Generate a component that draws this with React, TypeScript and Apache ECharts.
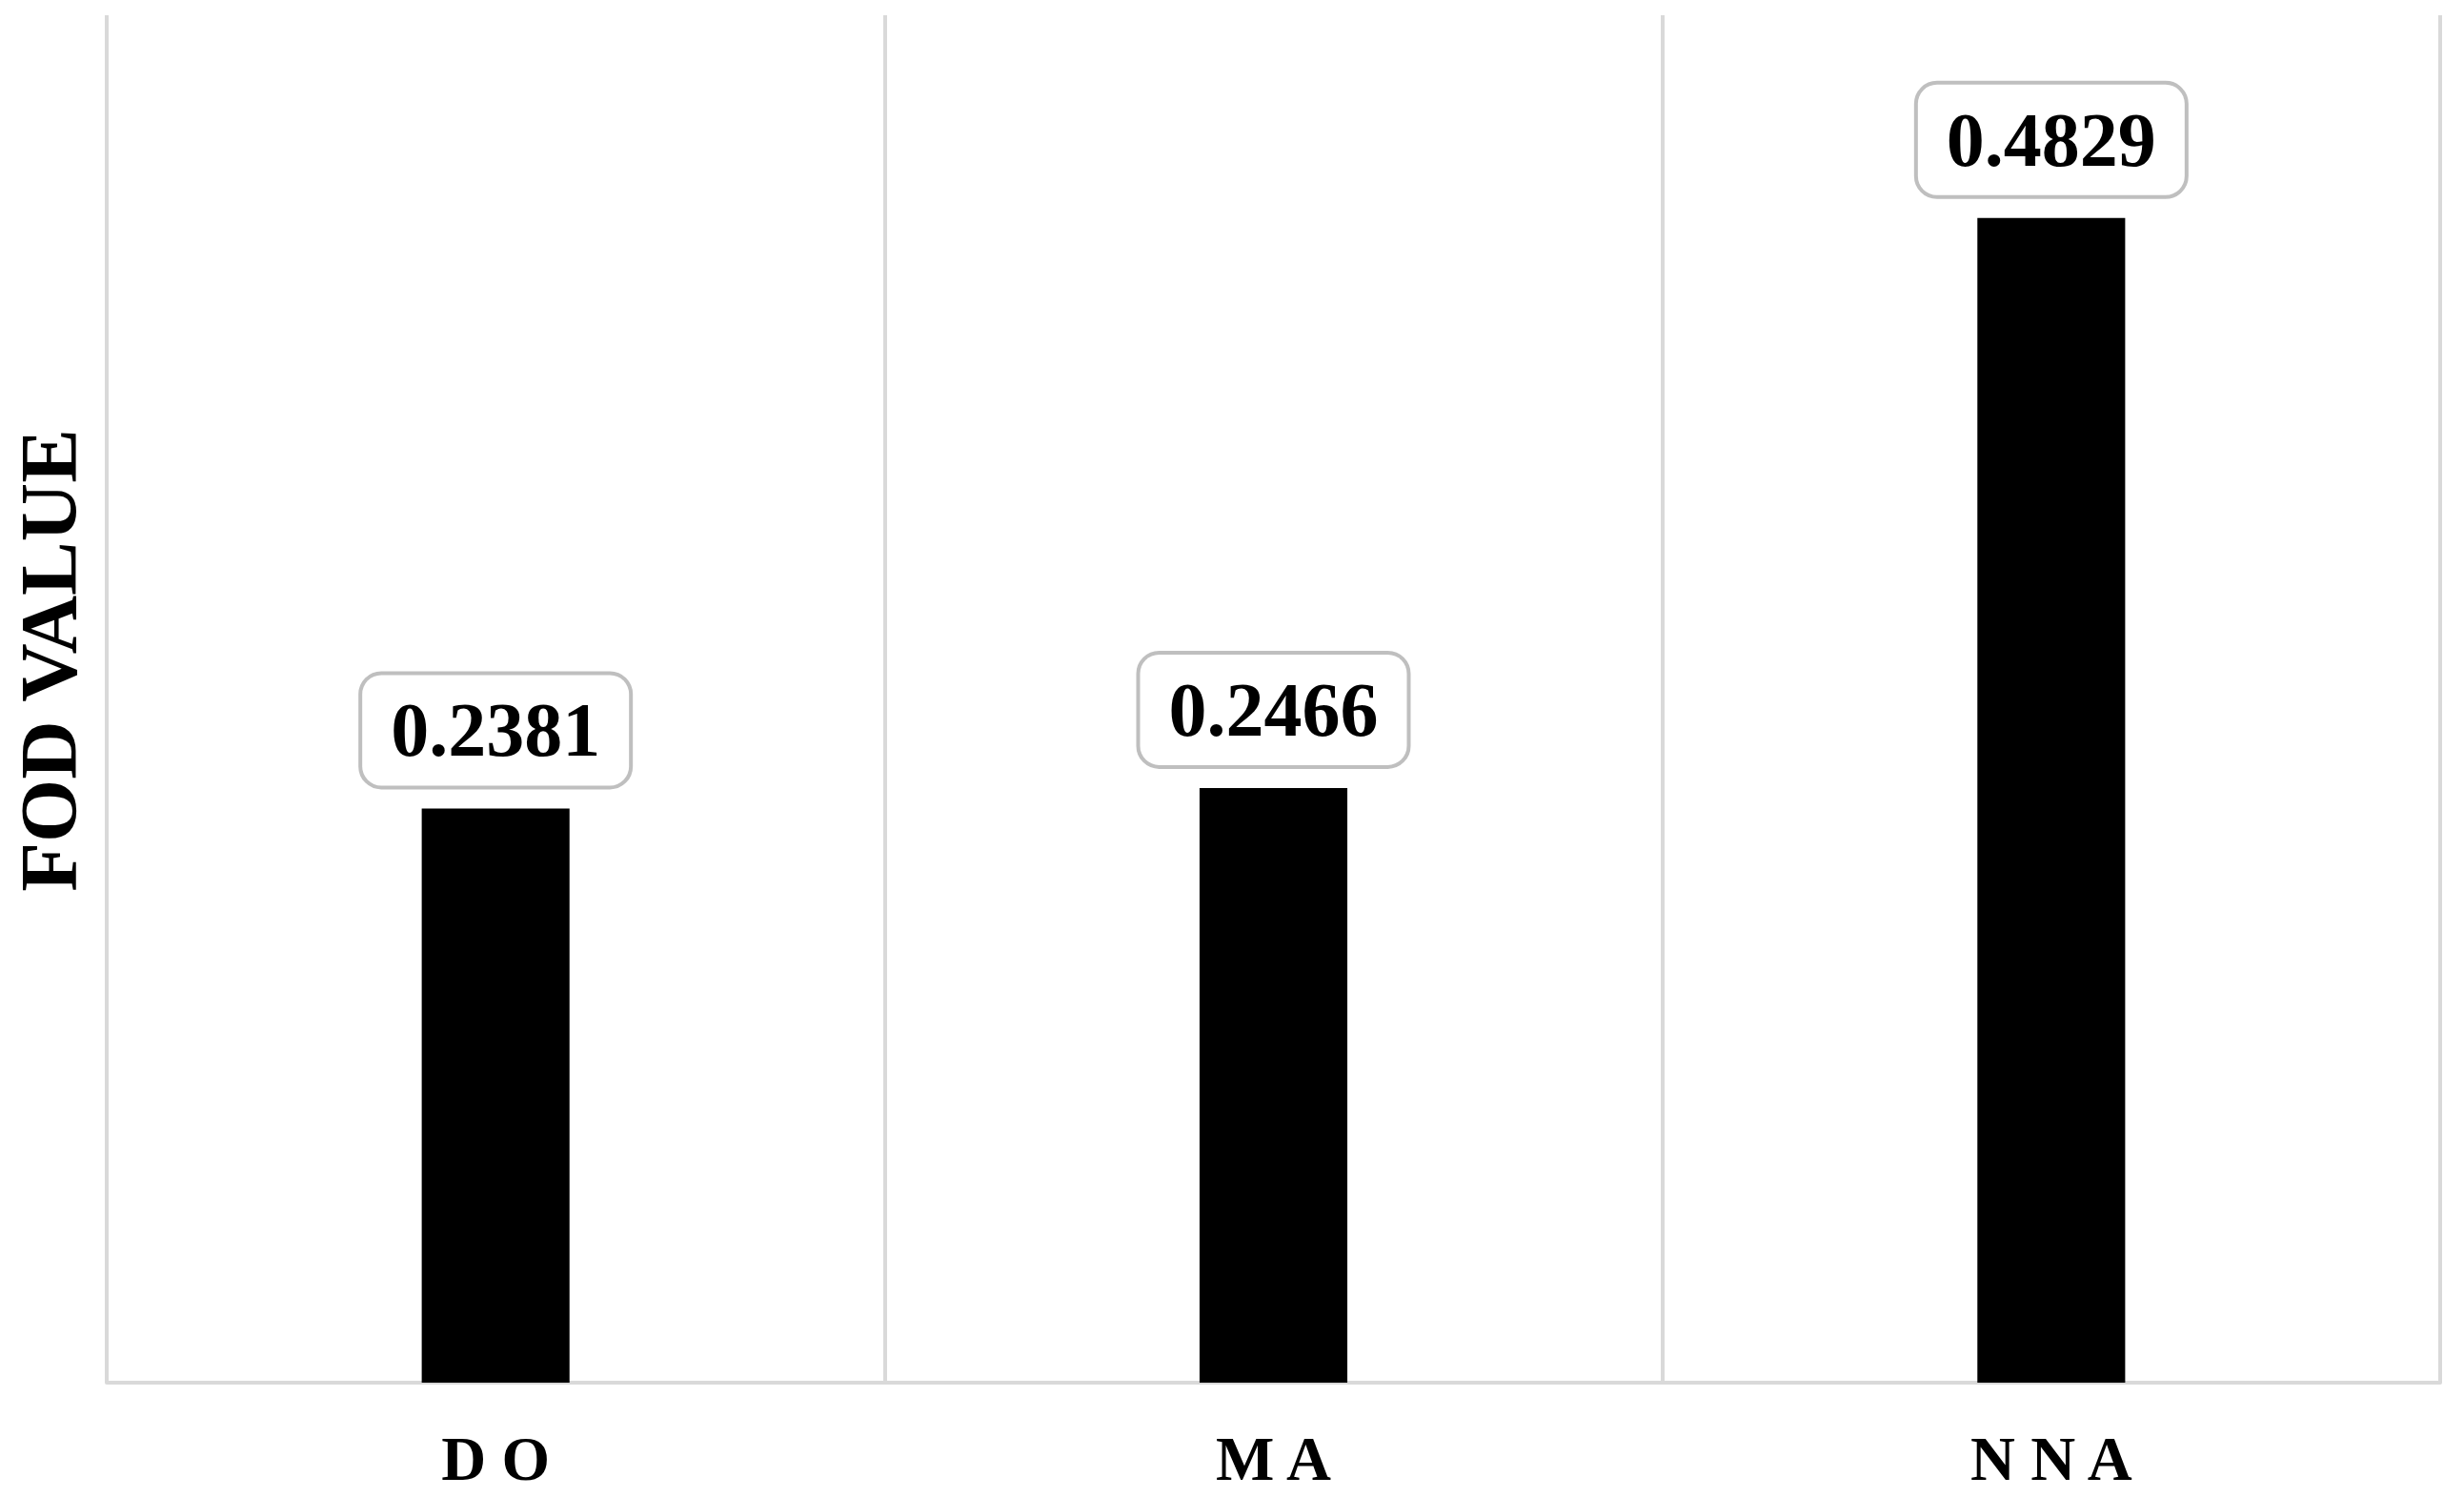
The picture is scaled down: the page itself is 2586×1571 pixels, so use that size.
import React, { useEffect, useRef } from "react";
import * as echarts from "echarts";

const categories = ["DO", "MA", "NNA"];
const fodValues = [0.2381, 0.2466, 0.4829];
const yAxisTitle = "FOD VALUE";
const yMax = 0.567;

const SERIF = "'Liberation Serif', 'Times New Roman', serif";

export default function App() {
  const ref = useRef<HTMLDivElement>(null);
  useEffect(() => {
    if (!ref.current) return;
    const chart = echarts.init(ref.current, undefined, { renderer: "svg" });
    chart.setOption({
      animation: false,
      backgroundColor: "#ffffff",
      grid: { left: 112, right: 25, top: 16, bottom: 120, containLabel: false },
      graphic: [
        {
          type: "text",
          x: 51,
          y: 693,
          rotation: Math.PI / 2,
          style: {
            text: yAxisTitle,
            x: 0,
            y: 0,
            textAlign: "center",
            textVerticalAlign: "middle",
            fontFamily: SERIF,
            fontWeight: "bold",
            fontSize: 85,
            fill: "#000",
          },
        },
      ],
      xAxis: {
        type: "category",
        data: categories,
        boundaryGap: true,
        axisLine: { show: true, lineStyle: { color: "#d9d9d9", width: 4 } },
        axisTick: { show: false },
        splitLine: { show: true, showMinLine: true, showMaxLine: true, lineStyle: { color: "#d9d9d9", width: 4 } },
        axisLabel: {
          margin: 51,
          fontFamily: SERIF,
          fontWeight: "bold",
          fontSize: 65,
          lineHeight: 58,
          color: "#000",
          formatter: (v: string) => v.split("").join(" "),
        },
      },
      yAxis: {
        type: "value",
        min: 0,
        max: yMax,
        axisLine: { show: false },
        axisTick: { show: false },
        axisLabel: { show: false },
        splitLine: { show: false },
      },
      series: [
        {
          type: "bar",
          data: fodValues,
          barWidth: "19%",
          itemStyle: { color: "#000000" },
          label: {
            show: true,
            position: "top",
            distance: 24,
            formatter: (p: any) => p.value.toFixed(4),
            fontFamily: SERIF,
            fontWeight: "bold",
            fontSize: 80,
            lineHeight: 80,
            color: "#000",
            backgroundColor: "#ffffff",
            borderColor: "#bfbfbf",
            borderWidth: 4,
            borderRadius: 20,
            padding: [18, 30, 18, 30],
          },
        },
      ],
    });
    return () => chart.dispose();
  }, []);
  return (
    <div
      ref={ref}
      style={{ position: "absolute", left: 0, top: 0, width: 2586, height: 1571 }}
    />
  );
}
